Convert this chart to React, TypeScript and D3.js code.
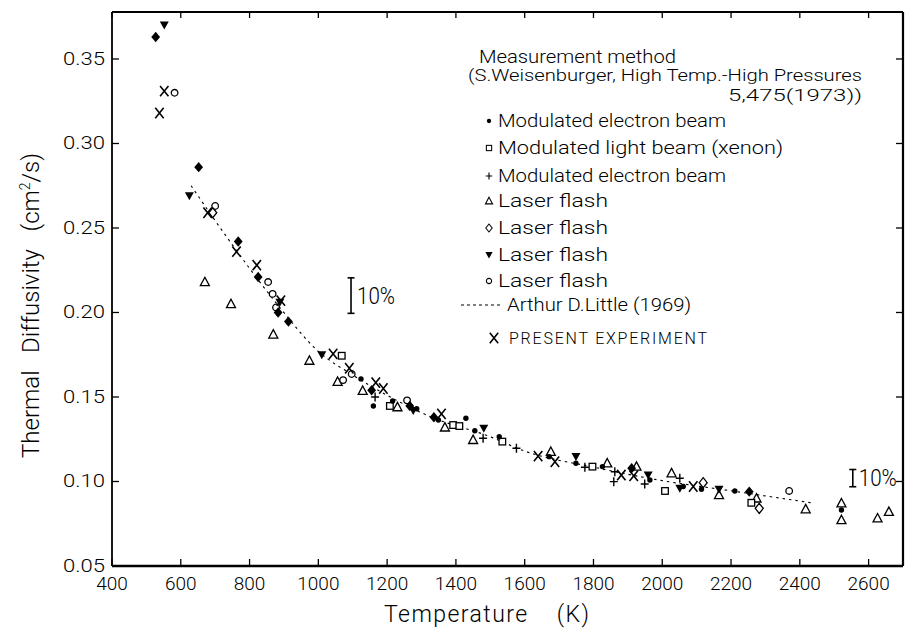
import React from "react";
import * as d3 from "d3";

const X_TICKS = [400, 600, 800, 1000, 1200, 1400, 1600, 1800, 2000, 2200, 2400, 2600];
const Y_TICKS = [0.05, 0.10, 0.15, 0.20, 0.25, 0.30, 0.35];

const filledDot = [[1124,0.1607],[1160,0.1447],[1216,0.1476],[1286,0.143],[1349,0.1364],[1429,0.1374],[1455,0.130],[1526,0.1265],[1671,0.1147],[1749,0.1108],[1826,0.1088],[1964,0.1009],[2061,0.097],[2114,0.0954],[2211,0.0944],[2521,0.0831]];
const openSquare = [[1068,0.1744],[1208,0.1447],[1392,0.1334],[1410,0.1328],[1535,0.1236],[1797,0.1088],[2008,0.0944],[2259,0.0874]];
const plusPts = [[1165,0.150],[1479,0.1256],[1576,0.1197],[1775,0.1084],[1859,0.0999],[1862,0.1058],[1949,0.0985],[2051,0.1019]];
const openTriangle = [[670,0.218],[746,0.205],[869,0.187],[974,0.1715],[1056,0.159],[1129,0.1537],[1230,0.144],[1368,0.132],[1450,0.1246],[1676,0.1176],[1840,0.1108],[1925,0.1088],[2027,0.1049],[2165,0.092],[2274,0.090],[2417,0.0836],[2521,0.0871],[2521,0.0772],[2626,0.0782],[2659,0.0821]];
const openDiamond = [[693,0.259],[2119,0.0993],[2282,0.0841]];
const filledDownTri = [[552,0.370],[625,0.269],[888,0.206],[1010,0.175],[1276,0.142],[1481,0.1315],[1749,0.1147],[1959,0.1038],[2051,0.096],[2165,0.0954]];
const openCircle = [[582,0.330],[700,0.263],[854,0.218],[867,0.211],[877,0.203],[1072,0.160],[1097,0.1636],[1258,0.148],[2369,0.0944]];
const presentExp = [[538,0.318],[552,0.331],[678,0.259],[762,0.236],[821,0.228],[891,0.207],[1043,0.1755],[1090,0.167],[1167,0.1585],[1189,0.155],[1358,0.140],[1639,0.115],[1688,0.1117],[1881,0.1038],[1917,0.1033],[2090,0.097]];
const filledDiamond = [[527,0.363],[652,0.286],[767,0.242],[825,0.221],[883,0.200],[913,0.1946],[1155,0.154],[1266,0.1447],[1336,0.138],[1911,0.1078],[2253,0.094]];
const adlLine = [[630,0.275],[750,0.240],[880,0.205],[1000,0.177],[1100,0.163],[1200,0.151],[1330,0.138],[1500,0.1265],[1600,0.118],[1800,0.1085],[2000,0.1005],[2200,0.0945],[2440,0.0872]];

// 10% error bars: [temperature, centre value]
const errBars = [[1095, 0.21], [2554, 0.102]];

const FONT = "Roboto,'Liberation Sans',sans-serif";

const W = 908, H = 632;
const M = { left: 112, right: 903, top: 12, bottom: 566 };

const x = d3.scaleLinear().domain([400, 2700]).range([M.left, M.right]);
const y = d3.scaleLinear().domain([0.05, 0.3778]).range([M.bottom, M.top]);

type Kind = "dot" | "square" | "plus" | "tri" | "diamond" | "dtri" | "circle" | "x" | "fdiamond";

function Marker({ kind, cx, cy, s = 1 }: { kind: Kind; cx: number; cy: number; s?: number }) {
  const t = `translate(${cx},${cy}) scale(${s})`;
  switch (kind) {
    case "dot":
      return <circle transform={t} r={2.7} fill="#000" />;
    case "square":
      return <rect transform={t} x={-3.3} y={-3.3} width={6.6} height={6.6} fill="#fff" stroke="#000" strokeWidth={1.3} />;
    case "plus":
      return <path transform={t} d="M-4,0H4M0,-4.5V4.5" stroke="#000" strokeWidth={1.4} fill="none" />;
    case "tri":
      return <path transform={t} d="M0,-4.8L4.5,3.6L-4.5,3.6Z" fill="#fff" stroke="#000" strokeWidth={1.3} />;
    case "diamond":
      return <path transform={t} d="M0,-5L4,0L0,5L-4,0Z" fill="#fff" stroke="#000" strokeWidth={1.3} />;
    case "dtri":
      return <path transform={t} d="M-4.5,-3.6L4.5,-3.6L0,4.4Z" fill="#000" />;
    case "circle":
      return <circle transform={t} r={3.3} fill="#fff" stroke="#000" strokeWidth={1.3} />;
    case "x":
      return <path transform={t} d="M-4.2,-5.2L4.2,5.2M4.2,-5.2L-4.2,5.2" stroke="#000" strokeWidth={1.6} fill="none" />;
    case "fdiamond":
      return <path transform={t} d="M0,-5.2L4.4,0L0,5.2L-4.4,0Z" fill="#000" />;
  }
  return null;
}

const SERIES: { kind: Kind; data: number[][] }[] = [
  { kind: "tri", data: openTriangle },
  { kind: "square", data: openSquare },
  { kind: "circle", data: openCircle },
  { kind: "diamond", data: openDiamond },
  { kind: "plus", data: plusPts },
  { kind: "dot", data: filledDot },
  { kind: "dtri", data: filledDownTri },
  { kind: "fdiamond", data: filledDiamond },
  { kind: "x", data: presentExp },
];

const LEGEND: { kind: Kind; label: string; cy: number; len: number }[] = [
  { kind: "dot", label: "Modulated electron beam", cy: 121, len: 228 },
  { kind: "square", label: "Modulated light beam (xenon)", cy: 148, len: 285 },
  { kind: "plus", label: "Modulated electron beam", cy: 176, len: 228 },
  { kind: "tri", label: "Laser flash", cy: 201, len: 110 },
  { kind: "diamond", label: "Laser flash", cy: 228, len: 110 },
  { kind: "dtri", label: "Laser flash", cy: 255, len: 110 },
  { kind: "circle", label: "Laser flash", cy: 281, len: 110 },
];

export default function App() {
  const line = d3.line<number[]>().x(d => x(d[0])).y(d => y(d[1])).curve(d3.curveMonotoneX);
  return (
    <svg width={W} height={H} style={{ position: "absolute", left: 0, top: 0, display: "block", background: "#fff" }}>
      <rect width={W} height={H} fill="#fff" />
      {/* frame */}
      <g stroke="#000" fill="none">
        <line x1={M.left} x2={M.right} y1={M.top} y2={M.top} strokeWidth={2.2} />
        <line x1={M.left} x2={M.right} y1={M.bottom} y2={M.bottom} strokeWidth={2.4} />
        <line x1={M.left} x2={M.left} y1={M.top} y2={M.bottom} strokeWidth={1.8} />
        <line x1={M.right} x2={M.right} y1={M.top} y2={M.bottom} strokeWidth={2.2} />
        {X_TICKS.map(t => (
          <g key={"xt" + t}>
            <line x1={x(t)} x2={x(t)} y1={M.bottom} y2={M.bottom - 7} strokeWidth={1.3} />
            <line x1={x(t)} x2={x(t)} y1={M.top} y2={M.top + 6} strokeWidth={1.3} />
          </g>
        ))}
        {Y_TICKS.map(t => (
          <g key={"yt" + t}>
            <line x1={M.left} x2={M.left + 7} y1={y(t)} y2={y(t)} strokeWidth={1.3} />
            <line x1={M.right} x2={M.right - 7} y1={y(t)} y2={y(t)} strokeWidth={1.3} />
          </g>
        ))}
      </g>
      {/* tick labels */}
      <g fontFamily={FONT} fontSize={19} fontWeight={300} fill="#000">
        {X_TICKS.map(t => (
          <text key={"xl" + t} x={x(t)} y={590} textAnchor="middle">{t}</text>
        ))}
        {Y_TICKS.map(t => (
          <text key={"yl" + t} x={105} y={y(t)} dy="0.3em" textAnchor="end" textLength={42} lengthAdjust="spacingAndGlyphs">{t.toFixed(2)}</text>
        ))}
      </g>
      {/* axis titles */}
      <text x={384} y={622} fontFamily={FONT} fontWeight={300} fontSize={23} fill="#000" textLength={205} lengthAdjust="spacing" xmlSpace="preserve">Temperature    (K)</text>
      <text transform="translate(39,458) rotate(-90)" fontFamily={FONT} fontWeight={300} fontSize={24} fill="#000" xmlSpace="preserve">
        Thermal   Diffusivity   (cm<tspan dy="-9" fontSize={14}>2</tspan><tspan dy="9">/s)</tspan>
      </text>
      {/* Arthur D. Little dashed curve */}
      <path d={line(adlLine) || ""} fill="none" stroke="#000" strokeWidth={1.1} strokeDasharray="2.5,4" />
      {/* data */}
      {SERIES.map(s => (
        <g key={s.kind}>
          {s.data.map((d, i) => (
            <Marker key={i} kind={s.kind} cx={x(d[0])} cy={y(d[1])} />
          ))}
        </g>
      ))}
      {/* 10% bars */}
      {errBars.map((b, i) => {
        const cx = x(b[0]);
        const y1 = y(b[1] * 1.05), y2 = y(b[1] * 0.95);
        return (
          <g key={"eb" + i}>
            <g stroke="#000" strokeWidth={1.6}>
              <line x1={cx} x2={cx} y1={y1} y2={y2} />
              <line x1={cx - 3.5} x2={cx + 3.5} y1={y1} y2={y1} />
              <line x1={cx - 3.5} x2={cx + 3.5} y1={y2} y2={y2} />
            </g>
            <text x={cx + 6} y={(y1 + y2) / 2} dy="0.36em" fontFamily={FONT} fontWeight={300} fontSize={23} fill="#000" textLength={38} lengthAdjust="spacingAndGlyphs">10%</text>
          </g>
        );
      })}
      {/* legend */}
      <g fontFamily={FONT} fontWeight={300} fontSize={18} fill="#000">
        <text x={479} y={63} textLength={197} lengthAdjust="spacingAndGlyphs">Measurement method</text>
        <text x={468} y={81} fontSize={17} textLength={394} lengthAdjust="spacingAndGlyphs">(S.Weisenburger, High Temp.-High Pressures</text>
        <text x={728} y={101} fontSize={17} textLength={134} lengthAdjust="spacingAndGlyphs">5,475(1973))</text>
        {LEGEND.map((l, i) => (
          <g key={"lg" + i}>
            <Marker kind={l.kind} cx={489} cy={l.cy} s={0.8} />
            <text x={498} y={l.cy + 6} textLength={l.len} lengthAdjust="spacingAndGlyphs">{l.label}</text>
          </g>
        ))}
        <line x1={461} x2={503} y1={305} y2={305} stroke="#000" strokeWidth={1.2} strokeDasharray="3,3" />
        <text x={507} y={311} textLength={184} lengthAdjust="spacingAndGlyphs">Arthur D.Little (1969)</text>
        <Marker kind="x" cx={494} cy={338} />
        <text x={509} y={344} fontSize={16} letterSpacing={3} textLength={201} lengthAdjust="spacing">PRESENT EXPERIMENT</text>
      </g>
    </svg>
  );
}
